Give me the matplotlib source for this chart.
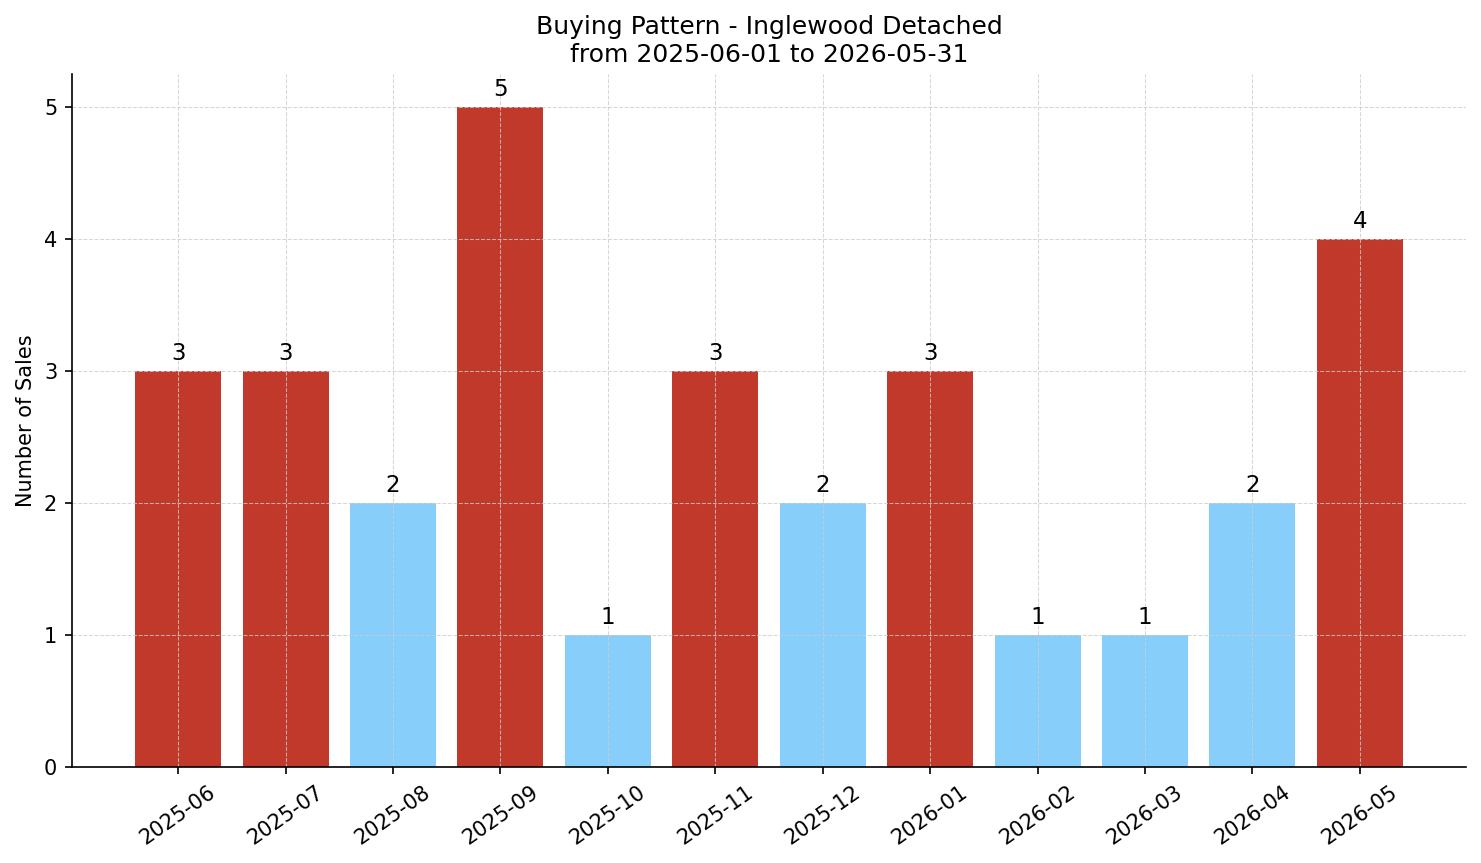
import matplotlib
matplotlib.use("Agg")
import matplotlib.pyplot as plt

months = ["2025-06", "2025-07", "2025-08", "2025-09", "2025-10", "2025-11",
          "2025-12", "2026-01", "2026-02", "2026-03", "2026-04", "2026-05"]
sales = [3, 3, 2, 5, 1, 3, 2, 3, 1, 1, 2, 4]

RED = "#c0392b"
BLUE = "#87cefa"
colores = [RED if v >= 3 else BLUE for v in sales]

fig, ax = plt.subplots(figsize=(1481 / 150, 863 / 150), dpi=150)
x = range(len(months))
barras = ax.bar(x, sales, color=colores, width=0.8)
ax.bar_label(barras, padding=3, fontsize=11)

ax.set_xticks(list(x))
ax.set_xticklabels(months, rotation=35, fontsize=10)
ax.tick_params(axis="y", labelsize=10)
ax.set_ylabel("Number of Sales", fontsize=10)
ax.set_title("Buying Pattern - Inglewood Detached\nfrom 2025-06-01 to 2026-05-31", fontsize=12)

ax.grid(True, linestyle="--", color="#cccccc", alpha=0.8, linewidth=0.5)
ax.spines["top"].set_visible(False)
ax.spines["right"].set_visible(False)

fig.subplots_adjust(left=0.0485, right=0.99, bottom=0.111, top=0.914)
fig.savefig("out.png", dpi=150)
